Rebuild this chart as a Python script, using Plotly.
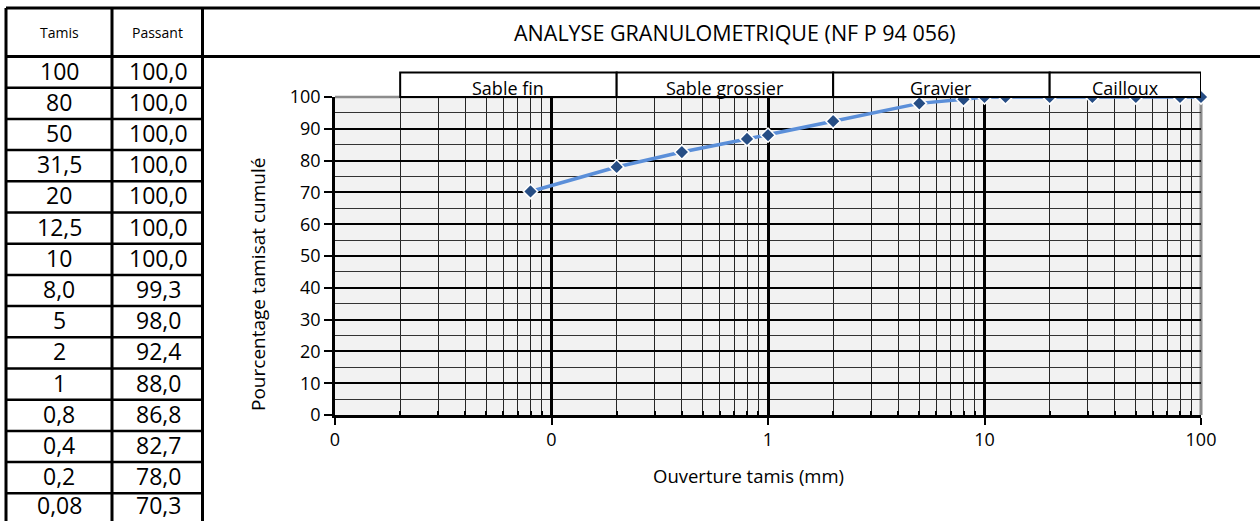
import math
import plotly.graph_objects as go

# Sieve analysis results (NF P 94 056)
tamis = [100, 80, 50, 31.5, 20, 12.5, 10, 8.0, 5, 2, 1, 0.8, 0.4, 0.2, 0.08]
tamis_labels = ["100", "80", "50", "31,5", "20", "12,5", "10", "8,0", "5", "2", "1",
                "0,8", "0,4", "0,2", "0,08"]
passant = [100.0, 100.0, 100.0, 100.0, 100.0, 100.0, 100.0, 99.3, 98.0, 92.4, 88.0,
           86.8, 82.7, 78.0, 70.3]

# Soil classes along the sieve-opening axis
zone_names = ["Sable fin", "Sable grossier", "Gravier", "Cailloux"]
zone_bounds = [0.02, 0.2, 2, 20, 100]

x_tickvals = [0.01, 0.1, 1, 10, 100]
x_ticktext = ["0", "0", "1", "10", "100"]
x_minor = [m * 10 ** e for e in range(-2, 2) for m in range(2, 10)]

W, H = 1260, 521
FONT = "Open Sans"


def px(x):
    return x / W


def py(y):
    return 1 - y / H


def label(text, x, y, size, **kw):
    d = dict(text=text, x=x, y=y, xref="paper", yref="paper", showarrow=False,
             xanchor="center", yanchor="middle",
             font=dict(size=size, color="black", family=FONT))
    d.update(kw)
    return d


fig = go.Figure()

fig.add_trace(go.Scatter(
    x=tamis, y=passant, mode="lines+markers",
    line=dict(color="#5b8fd9", width=3.5),
    marker=dict(symbol="diamond", size=11, color="#264d84",
                line=dict(color="white", width=1.5)),
    cliponaxis=False, showlegend=False, hoverinfo="x+y",
))

shapes = []
annotations = []

# --- Table on the left ---
t_left, t_mid, t_right = 6, 112, 202.5
t_top, t_head = 8, 56.5
row_h = 31.2
t_bottom = t_head + row_h * len(tamis) + 10
line_k = dict(color="black", width=3)
for xv in (t_left, t_mid, t_right):
    shapes.append(dict(type="line", xref="paper", yref="paper",
                       x0=px(xv), x1=px(xv), y0=py(t_top), y1=py(t_bottom), line=line_k))
for yv in (t_top, t_head):
    shapes.append(dict(type="line", xref="paper", yref="paper",
                       x0=px(t_left), x1=px(W + 5), y0=py(yv), y1=py(yv), line=line_k))
for k in range(1, len(tamis)):
    yv = t_head + row_h * k
    shapes.append(dict(type="line", xref="paper", yref="paper",
                       x0=px(t_left), x1=px(t_right), y0=py(yv), y1=py(yv),
                       line=dict(color="black", width=2.5)))

annotations.append(label("Tamis", px((t_left + t_mid) / 2), py((t_top + t_head) / 2), 14))
annotations.append(label("Passant", px((t_mid + t_right) / 2), py((t_top + t_head) / 2), 14))

for i, (lab, val) in enumerate(zip(tamis_labels, passant)):
    # keep the last row's text inside the page
    cy = min(t_head + row_h * (i + 0.5) - 1.5, H - 16)
    annotations.append(label(lab, px((t_left + t_mid) / 2), py(cy), 23))
    annotations.append(label(f"{val:.1f}".replace(".", ","),
                             px((t_mid + t_right) / 2 + 1), py(cy), 23))

# --- Title ---
annotations.append(label("ANALYSE GRANULOMETRIQUE (NF P 94 056)", px(735), py(33), 21.5))

# --- Plot frame (grey top and right edges) ---
plot_l, plot_r, plot_t, plot_b = 335, 1201, 97, 415
shapes.append(dict(type="line", xref="paper", yref="paper",
                   x0=px(plot_l), x1=px(plot_r), y0=py(plot_t), y1=py(plot_t),
                   line=dict(color="#8c8c8c", width=2.5), layer="between"))
shapes.append(dict(type="line", xref="paper", yref="paper",
                   x0=px(plot_r), x1=px(plot_r), y0=py(plot_t), y1=py(plot_b),
                   line=dict(color="#8c8c8c", width=3), layer="between"))

# --- Soil class boxes above the plot ---
box_top = 72.5
for name, a, b in zip(zone_names, zone_bounds[:-1], zone_bounds[1:]):
    shapes.append(dict(type="rect", xref="x", yref="paper", x0=a, x1=b,
                       y0=py(plot_t), y1=py(box_top), fillcolor="white",
                       line=dict(color="black", width=2), layer="above"))
    annotations.append(dict(text=name, x=(math.log10(a) + math.log10(b)) / 2,
                            y=py(88), xref="x", yref="paper", showarrow=False,
                            xanchor="center", yanchor="middle",
                            font=dict(size=18, color="black", family=FONT)))

# --- Axis titles ---
annotations.append(label("Pourcentage tamisat cumulé", px(258), py(285), 19, textangle=-90))
annotations.append(label("Ouverture tamis (mm)", px(748), py(475), 18.5))

fig.update_layout(
    width=W, height=H,
    margin=dict(l=0, r=0, t=0, b=0, autoexpand=False),
    paper_bgcolor="white",
    plot_bgcolor="#f2f2f2",
    font=dict(family=FONT, color="black"),
    xaxis=dict(
        type="log", range=[-2, 2],
        domain=[px(plot_l), px(plot_r)],
        tickmode="array", tickvals=x_tickvals, ticktext=x_ticktext,
        ticks="outside", ticklen=7, tickwidth=2, tickcolor="black",
        tickfont=dict(size=18, family=FONT, color="black"),
        showline=True, linecolor="black", linewidth=2.5,
        showgrid=True, gridcolor="black", gridwidth=2.5,
        zeroline=False, automargin=False,
        minor=dict(tickmode="array", tickvals=x_minor, ticks="inside",
                   ticklen=4, tickwidth=2, tickcolor="black",
                   showgrid=True, gridcolor="#262626", gridwidth=1.3),
    ),
    yaxis=dict(
        range=[0, 100],
        domain=[py(plot_b), py(plot_t)],
        tickmode="linear", tick0=0, dtick=10,
        ticks="outside", ticklen=8, tickwidth=2, tickcolor="black",
        tickfont=dict(size=18, family=FONT, color="black"),
        showline=True, linecolor="black", linewidth=2.5,
        showgrid=True, gridcolor="black", gridwidth=2,
        zeroline=False, automargin=False,
        minor=dict(dtick=5, showgrid=True, gridcolor="#333333", gridwidth=1),
    ),
    shapes=shapes,
    annotations=annotations,
)

fig.write_html("out.html")
